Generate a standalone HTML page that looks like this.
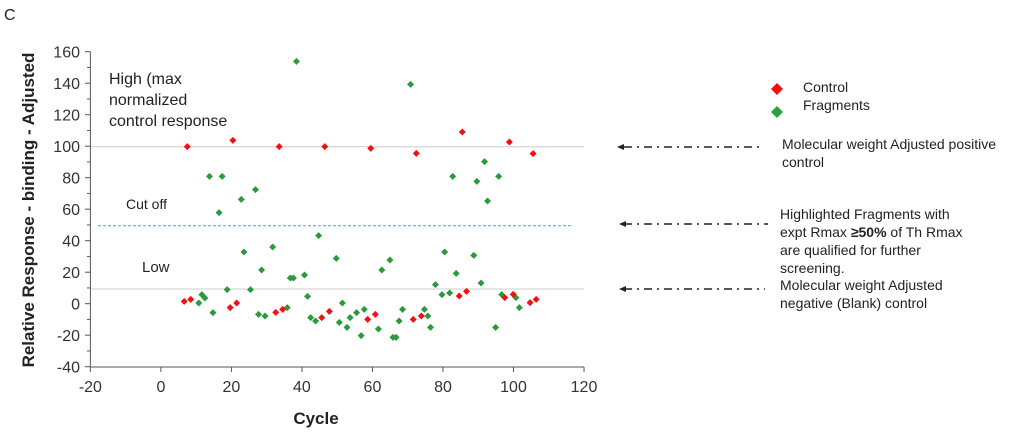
<!DOCTYPE html>
<html><head><meta charset="utf-8"><style>
body{margin:0;background:#fff;}
svg text{font-family:"Liberation Sans",Arial,sans-serif;}
</style></head><body>
<svg width="1024" height="432" viewBox="0 0 1024 432" xmlns="http://www.w3.org/2000/svg">
<text x="4" y="20" font-size="16" fill="#222">C</text>
<g stroke="#ccc" stroke-width="1">
<line x1="91" y1="146.7" x2="584" y2="146.7"/>
<line x1="91" y1="289" x2="584" y2="289"/>
</g>
<line x1="98" y1="225.7" x2="572" y2="225.7" stroke="#4fb3e8" stroke-width="1.2" stroke-dasharray="3,2"/>
<g stroke="#555" stroke-width="1">
<line x1="90.4" y1="51.7" x2="90.4" y2="367"/>
<line x1="90.4" y1="367" x2="584" y2="367"/>
</g>
<g stroke="#555" stroke-width="1" id="yt"></g>
<g font-size="16" fill="#333" text-anchor="end" id="yl"></g>
<g font-size="16" fill="#333" text-anchor="middle" id="xl"></g>
<text transform="translate(34,210) rotate(-90)" font-size="17" font-weight="bold" fill="#222" text-anchor="middle">Relative Response - binding - Adjusted</text>
<text x="316" y="424" font-size="17" font-weight="bold" fill="#222" text-anchor="middle">Cycle</text>
<g font-size="16" fill="#222">
<text x="109" y="84">High (max</text>
<text x="109" y="105">normalized</text>
<text x="109" y="126">control response</text>
<text x="126" y="209" font-size="14">Cut off</text>
<text x="142" y="272" font-size="15">Low</text>
</g>
<g id="pts"></g>
<path d="M777,83 l6,6 l-6,6 l-6,-6z" fill="#ee1111"/>
<path d="M777,106 l6,6 l-6,6 l-6,-6z" fill="#2aa040"/>
<g font-size="14" fill="#222">
<text x="803" y="92">Control</text>
<text x="803" y="110">Fragments</text>
<text x="782" y="149">Molecular weight Adjusted positive</text>
<text x="782" y="167">control</text>
<text x="780" y="219">Highlighted Fragments with</text>
<text x="780" y="237">expt Rmax <tspan font-weight="bold">≥50%</tspan> of Th Rmax</text>
<text x="780" y="255">are qualified for further</text>
<text x="780" y="273">screening.</text>
<text x="780" y="290">Molecular weight Adjusted</text>
<text x="780" y="308">negative (Blank) control</text>
</g>
<g stroke="#222" stroke-width="1.6" stroke-dasharray="8,5,2,5" fill="#222">
<line x1="624" y1="147" x2="763" y2="147"/>
<line x1="624" y1="224" x2="768" y2="224"/>
<line x1="624" y1="289" x2="765" y2="289"/>
</g>
<g fill="#222">
<path d="M617,147 l7,-3 v6z"/><path d="M619,224 l7,-3 v6z"/><path d="M619,289 l7,-3 v6z"/>
</g>
<script>
var ns="http://www.w3.org/2000/svg";
function el(t,a,p){var e=document.createElementNS(ns,t);for(var k in a)e.setAttribute(k,a[k]);p.appendChild(e);return e;}
var yt=document.getElementById('yt'),yl=document.getElementById('yl'),xl=document.getElementById('xl');
for(var v=-40;v<=160;v+=10){var y=303.7-v*1.575;el('line',{x1:v%20==0?85:87,y1:y,x2:90.4,y2:y},yt);
if(v%20==0){var t=el('text',{x:80,y:y+6},yl);t.textContent=v;}}
for(var v=-20;v<=120;v+=20){var x=160.9+v*3.526;el('line',{x1:x,y1:367,x2:x,y2:372},yt);var t=el('text',{x:x,y:392},xl);t.textContent=v;}
var red=[[489,440],[608,421],[729,440],[848,440],[968,445],[1087,460],[1207,396],[1330,426],[1392,461],[481,904],[498,898],[601,923],[618,909],[720,937],[738,928],[840,953],[860,934],[960,958],[980,943],[1079,958],[1100,948],[1199,888],[1218,874],[1318,893],[1340,883],[1384,908],[1400,898]];
var grn=[[774,184],[1072,253],[547,529],[580,529],[572,638],[630,598],[667,569],[1182,529],[1265,485],[1245,544],[1302,529],[1273,603],[832,707],[637,756],[712,741],[683,810],[593,869],[654,869],[758,834],[766,834],[795,825],[803,889],[878,775],[997,810],[1018,780],[1161,756],[1191,820],[1237,766],[1137,854],[1154,884],[1174,879],[1256,849],[1310,884],[1347,893],[1356,923],[1294,982],[519,909],[527,884],[535,894],[556,938],[675,943],[692,948],[750,923],[811,953],[824,963],[886,967],[894,909],[906,982],[914,953],[931,938],[943,1007],[951,928],[988,987],[1026,1012],[1034,1012],[1042,963],[1051,928],[1108,928],[1117,948],[1124,982]];
var P=document.getElementById('pts');
function d(a,c){a.forEach(function(p){var x=p[0]*0.383,y=p[1]/3;el('path',{d:'M'+x+','+(y-3.5)+' l3.5,3.5 l-3.5,3.5 l-3.5,-3.5z',fill:c},P);});}
d(grn,'#2a9a3a');d(red,'#ee1111');
</script>
</svg>
</body></html>
